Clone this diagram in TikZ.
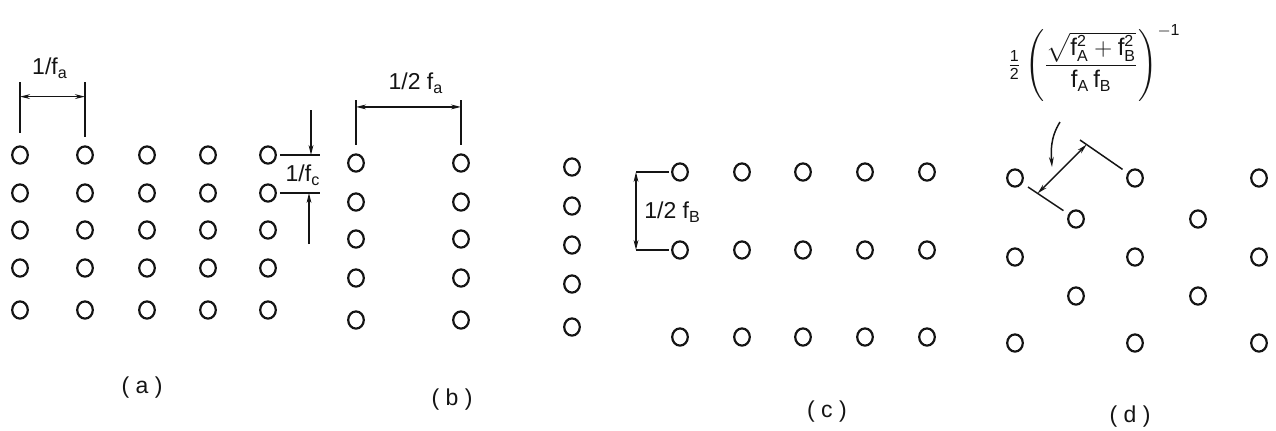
\documentclass[tikz,border=0pt]{standalone}
\usepackage{fontspec}
\setmainfont{Liberation Sans}
\setsansfont{Liberation Sans}
\usepackage{amsmath}
\usetikzlibrary{shapes.geometric, arrows.meta, calc}
\definecolor{inkblack}{HTML}{141414}
\tikzstyle{hole} = [ellipse, draw=inkblack, line width=1.1pt, minimum width=7.8pt, minimum height=8.6pt, inner sep=0pt]
\tikzstyle{extline} = [line width=0.75pt, color=inkblack]
\tikzstyle{dimarrow} = [{Stealth[length=5pt, width=2.4pt]}-{Stealth[length=5pt, width=2.4pt]}, line width=0.7pt, color=inkblack]
\tikzstyle{arrow} = [-{Stealth[length=5pt, width=2.4pt]}, line width=0.75pt, color=inkblack]

\begin{document}
\begin{tikzpicture}[x=0.5pt, y=-0.5pt,
    dimlbl/.style={font=\fontsize{11.5}{13}\selectfont, text=inkblack, inner sep=1pt},
    panellbl/.style={font=\fontsize{11.5}{13}\selectfont, text=inkblack},
  ]
  \useasboundingbox (0,0) rectangle (1276,430);

  % ── Panel (a): square array
  \foreach \x [count=\i] in {20,85,147,208,268}
    \foreach \y [count=\j] in {155,193,230,268,310}
      \node[hole] (a\j\i) at (\x,\y) {};

  % ── Panel (b): two columns
  \foreach \x [count=\i] in {356,461}
    \foreach \y [count=\j] in {163,202,239,278,320}
      \node[hole] (b\j\i) at (\x,\y) {};

  % ── Panel (c): single column + wide rows
  \foreach \y [count=\j] in {167,206,245,284,327}
    \node[hole] (cL\j) at (572,\y) {};
  \foreach \x [count=\i] in {680,742,803,865,927}
    \foreach \y [count=\j] in {172,250,337}
      \node[hole] (c\j\i) at (\x,\y) {};

  % ── Panel (d): staggered array
  \foreach \x [count=\i] in {1015,1135,1259} {
    \node[hole] (d1\i) at (\x,178) {};
    \node[hole] (d3\i) at (\x,257) {};
    \node[hole] (d5\i) at (\x,343) {};
  }
  \foreach \x [count=\i] in {1076,1198} {
    \node[hole] (d2\i) at (\x,219) {};
    \node[hole] (d4\i) at (\x,296) {};
  }

  % ── Dimension 1/f_a
  \coordinate (fa1) at (20,82);
  \coordinate (fa2) at (85,82);
  \draw[extline, shorten >=6pt] (fa1) -- (a11);
  \draw[extline, shorten >=4pt] (fa2) -- (a12);
  \draw[dimarrow] ($(fa1)!0.2!(a11)$) -- ($(fa2)!0.2!(a12)$);
  \node[dimlbl] (lfa) at (50,68) {1/f\textsubscript{a}};

  % ── Dimension 1/f_c
  \coordinate (fc1) at (320,155);
  \coordinate (fc2) at (320,193);
  \draw[extline, shorten <=1.5pt] (a15) -- (fc1);
  \draw[extline, shorten <=1.5pt] (a25) -- (fc2);
  \coordinate (fc0) at (311,110);
  \coordinate (fc3) at (309,244);
  \draw[arrow] (fc0) -- (fc0 |- fc1);
  \draw[arrow] (fc3) -- (fc3 |- fc2);
  \node[dimlbl] (lfc) at (303,175) {1/f\textsubscript{c}};

  % ── Dimension 1/2 f_a
  \coordinate (fb1) at (356,100);
  \coordinate (fb2) at (461,100);
  \draw[extline, shorten >=4pt] (fb1) -- (b11);
  \draw[extline, shorten >=4pt] (fb2) -- (b12);
  \draw[dimarrow] ($(fb1)!0.11!(b11)$) -- ($(fb2)!0.11!(b12)$);
  \node[dimlbl] (lfb) at (416,83) {1/2 f\textsubscript{a}};

  % ── Dimension 1/2 f_B
  \coordinate (fB1) at (636,172);
  \coordinate (fB2) at (636,250);
  \draw[extline, shorten >=1pt] (fB1) -- (c11);
  \draw[extline, shorten >=1pt] (fB2) -- (c21);
  \draw[dimarrow] (fB1) -- (fB2);
  \node[dimlbl, anchor=west] (lfB) at (642,212) {1/2 f\textsubscript{B}};

  % ── Dimension between lattice lines (d)
  \coordinate (t1) at (1080,140);
  \coordinate (t2) at (1028,187);
  \draw[extline, shorten >=3pt] (t1) -- (d12);
  \draw[extline, shorten >=3pt] (t2) -- (d21);
  \draw[dimarrow] ($(t2)!0.2!(d21)$) -- ($(t1)!0.12!(d12)$);
  \node[dimlbl, font=\fontsize{12}{14}\selectfont] (form) at (1094,63)
    {$\frac{\mathsf{1}}{\mathsf{2}}\left(\dfrac{\sqrt{\mathsf{f}_{\mathsf{A}}^{\mathsf{2}}+\mathsf{f}_{\mathsf{B}}^{\mathsf{2}}}}{\mathsf{f}_{\mathsf{A}}\,\mathsf{f}_{\mathsf{B}}}\right)^{-\mathsf{1}}$};
  \coordinate (cv1) at (1060,122);
  \coordinate (cv2) at (1052,167);
  \draw[arrow] (cv1) .. controls (1050,138) and (1051,152) .. (cv2);

  % ── Captions
  \node[panellbl] (capa) at (142,388) {( a )};
  \node[panellbl] (capb) at (452,400) {( b )};
  \node[panellbl] (capc) at (827,412) {( c )};
  \node[panellbl] (capd) at (1130,417) {( d )};
\end{tikzpicture}
\end{document}
